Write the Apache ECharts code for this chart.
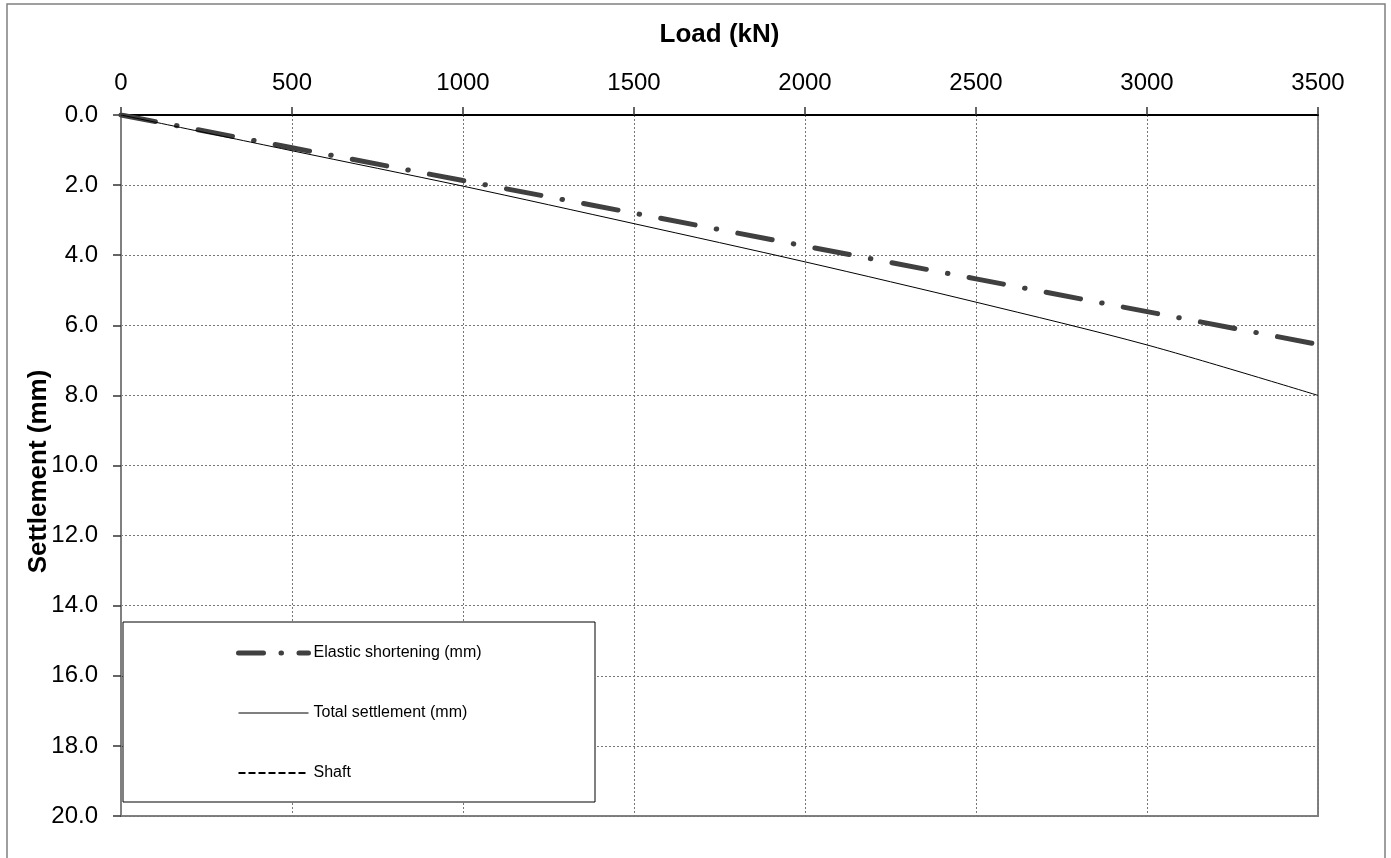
<!DOCTYPE html>
<html>
<head>
<meta charset="utf-8">
<script src="https://cdn.jsdelivr.net/npm/echarts@6/dist/echarts.min.js"></script>
<style>
html,body{margin:0;padding:0;background:#fff;}
#chart{width:1391px;height:858px;}
</style>
</head>
<body>
<div id="chart"></div>
<script>
const loads = [0, 500, 1000, 1500, 2000, 2500, 3000, 3500];
const elasticShortening = [0, 0.935, 1.87, 2.8, 3.74, 4.675, 5.61, 6.545];
const totalSettlement = [0, 1.02, 2.03, 3.1, 4.19, 5.34, 6.56, 8.0];
const shaft = [];
const seriesNames = ['Elastic shortening (mm)', 'Total settlement (mm)', 'Shaft'];

const FONT = 'Liberation Sans, Arial, sans-serif';
const pair = (xs, ys) => xs.map((x, i) => [x, ys[i]]);
const hidden = {color: 'rgba(0,0,0,0)', borderWidth: 0, opacity: 0};

const chart = echarts.init(document.getElementById('chart'), null, {renderer: 'canvas'});
const option = {
  animation: false,
  backgroundColor: '#fff',
  textStyle: {fontFamily: FONT},
  grid: {left: 121, top: 115, right: 73, bottom: 42, show: true, borderColor: '#808080', borderWidth: 2, containLabel: false},
  xAxis: {
    type: 'value', position: 'top', min: 0, max: 3500, interval: 500,
    name: 'Load (kN)', nameLocation: 'middle', nameGap: 67, nameMoveOverlap: false,
    nameTextStyle: {fontFamily: FONT, fontSize: 26, fontWeight: 'bold', color: '#000'},
    axisLine: {show: true, onZero: false, lineStyle: {color: '#000', width: 2}},
    axisTick: {show: true, inside: false, length: 8, lineStyle: {color: '#333', width: 1.5}},
    axisLabel: {fontFamily: FONT, fontSize: 24, color: '#000', margin: 20, formatter: v => String(v)},
    splitLine: {show: true, lineStyle: {color: '#777', width: 1, type: [2, 2]}}
  },
  yAxis: {
    type: 'value', inverse: true, min: 0, max: 20, interval: 2,
    name: 'Settlement (mm)', nameLocation: 'middle', nameGap: 69, nameRotate: 90, nameMoveOverlap: false,
    nameTextStyle: {fontFamily: FONT, fontSize: 26, fontWeight: 'bold', color: '#000', padding: [0, 12, 0, 0]},
    axisLine: {show: true, onZero: false, lineStyle: {color: '#808080', width: 2}},
    axisTick: {show: true, inside: false, length: 8, lineStyle: {color: '#333', width: 1.5}},
    axisLabel: {fontFamily: FONT, fontSize: 24, color: '#000', margin: 23, formatter: v => v.toFixed(1)},
    splitLine: {show: true, lineStyle: {color: '#777', width: 1, type: [2, 2]}}
  },
  legend: {
    orient: 'vertical', left: 236, top: 645, padding: 0, itemWidth: 70, itemHeight: 16, itemGap: 44,
    z: 20,
    textStyle: {fontFamily: FONT, fontSize: 16, color: '#000', lineHeight: 16},
    data: [
      {name: seriesNames[0], itemStyle: hidden, lineStyle: {color: '#404040', width: 5, type: [25, 17.5, 0.5, 17.5], cap: 'round'}},
      {name: seriesNames[1], itemStyle: hidden, lineStyle: {color: '#000', width: 1}},
      {name: seriesNames[2], itemStyle: hidden, lineStyle: {color: '#000', width: 2, type: [7, 3]}}
    ]
  },
  graphic: [
    {type: 'rect', z: 10, shape: {x: 123, y: 622, width: 472, height: 180},
     style: {fill: '#fff', stroke: '#000', lineWidth: 1}},
    {type: 'rect', z: 1, silent: true, shape: {x: 7, y: 4, width: 1378, height: 880},
     style: {fill: null, stroke: '#808080', lineWidth: 1.5}}
  ],
  series: [
    {name: seriesNames[0], type: 'line', data: pair(loads, elasticShortening), symbol: 'none', z: 3,
     lineStyle: {color: '#404040', width: 5, type: [35, 21.5, 0.5, 21.5], cap: 'round'}, itemStyle: {color: '#404040'}},
    {name: seriesNames[1], type: 'line', data: pair(loads, totalSettlement), symbol: 'none', smooth: 0.3, z: 4,
     lineStyle: {color: '#000', width: 1}, itemStyle: {color: '#000'}},
    {name: seriesNames[2], type: 'line', data: shaft, symbol: 'none',
     lineStyle: {color: '#000', width: 2, type: [7, 3]}, itemStyle: {color: '#000'}}
  ]
};
chart.setOption(option);
</script>
</body>
</html>
